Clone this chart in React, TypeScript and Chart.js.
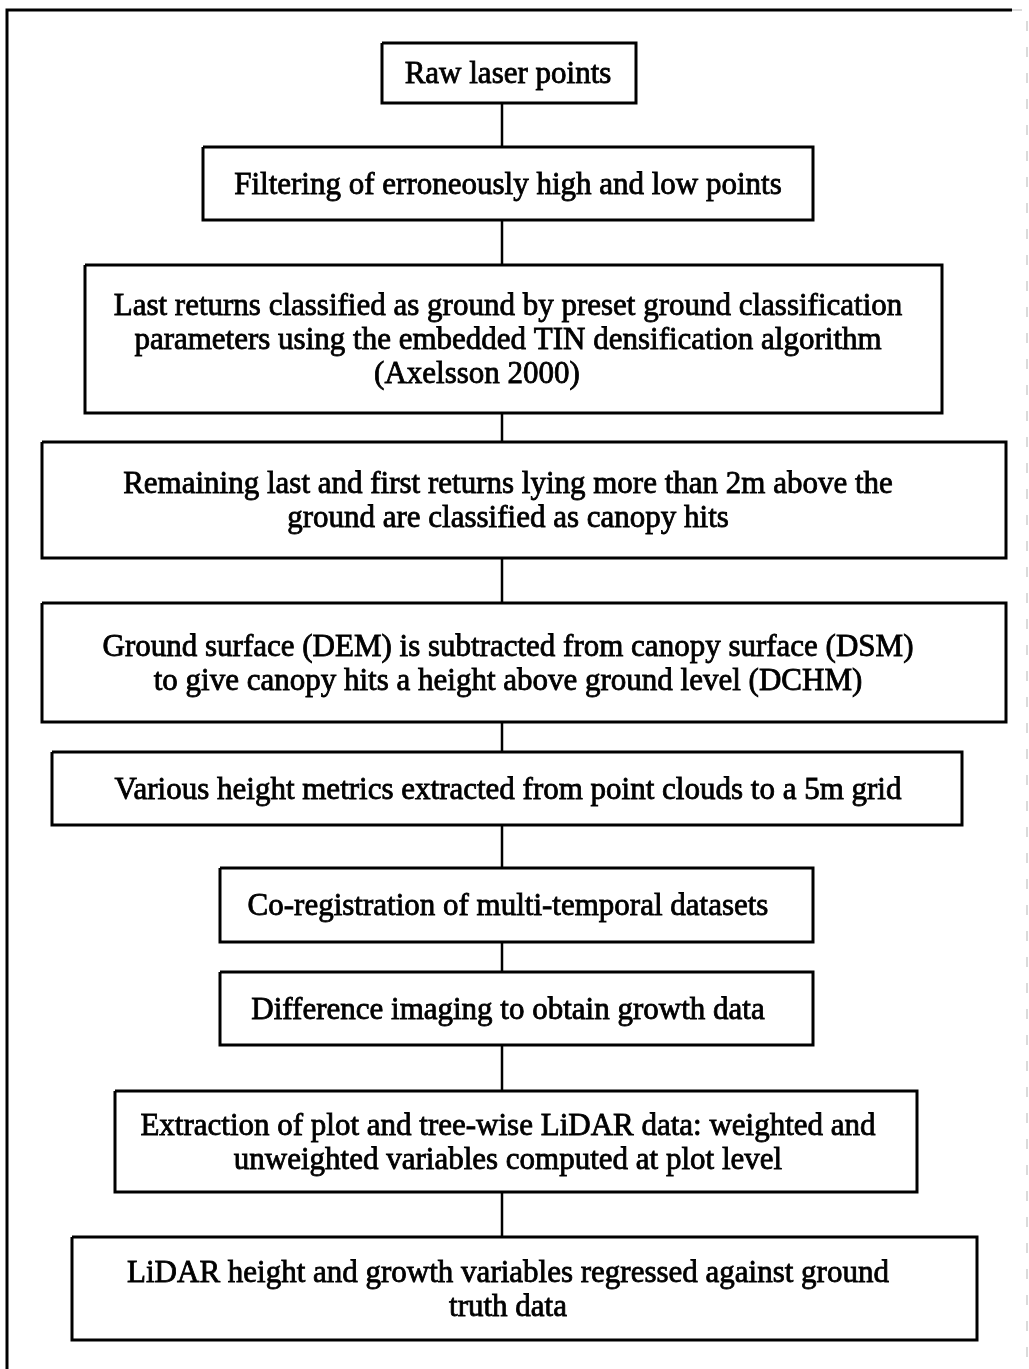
import React, { useEffect, useRef } from "react";
import { Chart, registerables } from "chart.js";

Chart.register(...registerables);

// Flowchart steps (text of each box, one entry per line)
const stepLabels: string[][] = [
  ["Raw laser points"],
  ["Filtering of erroneously high and low points"],
  [
    "Last returns classified as ground by preset ground classification",
    "parameters using the embedded TIN densification algorithm",
    "(Axelsson 2000)        ",
  ],
  [
    "Remaining last and first returns lying more than 2m above the",
    "ground are classified as canopy hits",
  ],
  [
    "Ground surface (DEM) is subtracted from canopy surface (DSM)",
    "to give canopy hits a height above ground level (DCHM)",
  ],
  ["Various height metrics extracted from point clouds to a 5m grid"],
  ["Co-registration of multi-temporal datasets"],
  ["Difference imaging to obtain growth data"],
  [
    "Extraction of plot and tree-wise LiDAR data: weighted and",
    "unweighted variables computed at plot level",
  ],
  [
    "LiDAR height and growth variables regressed against ground",
    "truth data",
  ],
];

// Box extents in the chart's coordinate units (x: 0..1029, y: 0..1369 downward)
const boxLeft = [382, 203, 85, 42, 42, 52, 220, 220, 115, 72];
const boxRight = [636, 813, 942, 1006, 1006, 962, 813, 813, 917, 977];
const boxTop = [43, 147, 265, 442, 603, 752, 868, 972, 1091, 1237];
const boxBottom = [103, 220, 413, 558, 722, 825, 942, 1045, 1192, 1340];

const connectorX = 502;
const textCenterX = 508;
const lineStep = 34;

const W = 1029;
const H = 1369;

export default function App() {
  const canvasRef = useRef<HTMLCanvasElement | null>(null);

  useEffect(() => {
    document.body.style.margin = "0";
    document.body.style.background = "#ffffff";
    const canvas = canvasRef.current;
    if (!canvas) return;

    const datasets: any[] = [];

    // outer frame
    datasets.push({
      label: "frame",
      data: [
        { x: 7, y: 1400 },
        { x: 7, y: 10 },
        { x: 1012, y: 10 },
      ],
      borderColor: "#000",
      borderWidth: 3,
    });
    datasets.push({
      label: "frame-right",
      data: [
        { x: 1012, y: 10 },
        { x: 1027, y: 10 },
        { x: 1027, y: 1400 },
      ],
      borderColor: "#d0d0d0",
      borderWidth: 1.5,
      borderDash: [10, 16],
    });

    // boxes
    stepLabels.forEach((_, i) => {
      datasets.push({
        label: "box" + i,
        data: [
          { x: boxLeft[i], y: boxTop[i] },
          { x: boxRight[i], y: boxTop[i] },
          { x: boxRight[i], y: boxBottom[i] },
          { x: boxLeft[i], y: boxBottom[i] },
          { x: boxLeft[i], y: boxTop[i] },
        ],
        borderColor: "#000",
        borderWidth: 3,
        borderJoinStyle: "miter",
      });
    });

    // connectors
    for (let i = 0; i < stepLabels.length - 1; i++) {
      datasets.push({
        label: "conn" + i,
        data: [
          { x: connectorX, y: boxBottom[i] },
          { x: connectorX, y: boxTop[i + 1] },
        ],
        borderColor: "#000",
        borderWidth: 2.5,
      });
    }

    const textPlugin = {
      id: "boxText",
      afterDatasetsDraw(chart: any) {
        const { ctx, scales } = chart;
        const xs = scales.x;
        const ys = scales.y;
        ctx.save();
        ctx.fillStyle = "#000";
        ctx.strokeStyle = "#000";
        ctx.lineWidth = 0.8;
        ctx.font = "31px 'Liberation Serif', 'Times New Roman', serif";
        ctx.textAlign = "center";
        ctx.textBaseline = "middle";
        stepLabels.forEach((lines, i) => {
          const cy = (boxTop[i] + boxBottom[i]) / 2 + 2;
          const n = lines.length;
          lines.forEach((line, j) => {
            const y = ys.getPixelForValue(cy + (j - (n - 1) / 2) * lineStep);
            const x = xs.getPixelForValue(textCenterX);
            ctx.fillText(line, x, y);
            ctx.strokeText(line, x, y);
          });
        });
        ctx.restore();
      },
    };

    const chart = new Chart(canvas, {
      type: "scatter",
      data: { datasets },
      options: {
        animation: false,
        responsive: false,
        maintainAspectRatio: false,
        showLine: true,
        layout: { padding: 0 },
        elements: { point: { radius: 0, hoverRadius: 0 }, line: { tension: 0 } },
        plugins: { legend: { display: false }, tooltip: { enabled: false } },
        scales: {
          x: { type: "linear", min: 0, max: W, display: false },
          y: { type: "linear", min: 0, max: H, reverse: true, display: false },
        },
      } as any,
      plugins: [textPlugin],
    });

    return () => chart.destroy();
  }, []);

  return (
    <div style={{ width: W, height: H, background: "#fff" }}>
      <canvas ref={canvasRef} width={W} height={H} style={{ display: "block" }} />
    </div>
  );
}
